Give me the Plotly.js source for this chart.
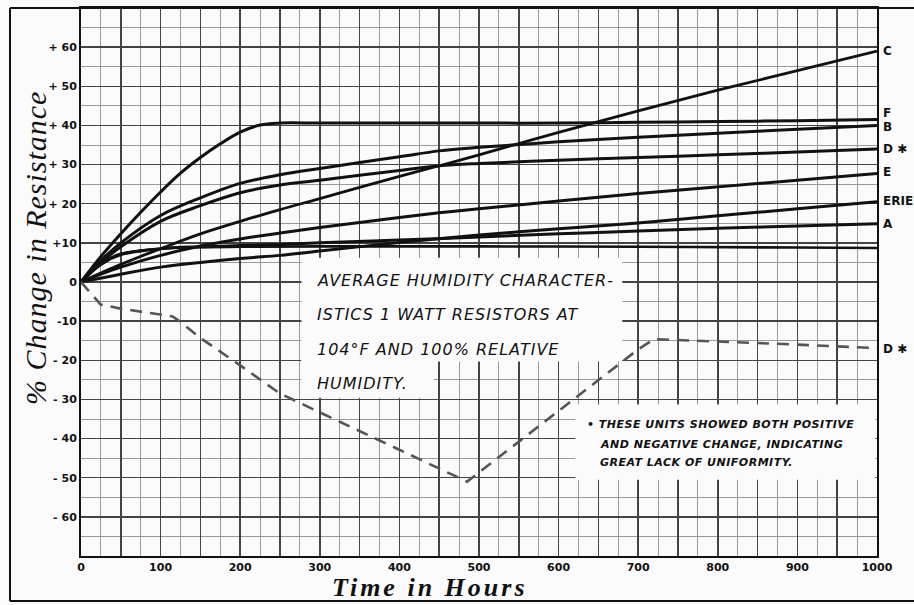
<!DOCTYPE html>
<html>
<head>
<meta charset="utf-8">
<script src="https://cdn.plot.ly/plotly-3.0.1.min.js"></script>
<style>html,body{margin:0;padding:0;background:#fbfbfb;}</style>
</head>
<body>
<div id="chart" style="width:914px;height:605px;"></div>
<script>
// ---- data (hours, % change) ----
const hoursF = [0,25,50,75,100,125,150,175,200,225,250,300,400,500,600,700,800,900,1000];
const valsF  = [0,6.5,12.3,17.8,23,27.8,31.8,35.3,38.3,40.1,40.6,40.6,40.6,40.6,40.6,40.8,41,41.2,41.5];

const hoursB = [0,25,50,100,150,200,250,300,400,450,500,600,700,800,900,1000];
const valsB  = [0,5.5,10,17,21.5,25.2,27.4,29,32,33.5,34.4,35.8,37,38,39,40];

const hoursD = [0,25,50,100,150,200,250,300,400,450,500,600,700,800,900,1000];
const valsD  = [0,5,9,15.5,19.5,22.8,24.8,26,28.5,29.7,30.3,31.1,31.8,32.5,33.2,34];

const hoursC = [0,50,100,150,200,250,300,400,450,500,600,700,800,900,1000];
const valsC  = [0,4.5,8.5,12.3,15.5,18.5,21.3,27,29.7,32.5,38.2,43.7,49,54,59];

const hoursE = [0,25,50,100,150,200,250,300,400,450,500,600,700,800,900,1000];
const valsE  = [0,2,3.8,6.8,9.2,11,12.5,13.9,16.5,17.7,18.7,20.7,22.6,24.3,26,27.7];

const hoursErie = [0,50,100,200,250,300,400,500,600,700,800,900,1000];
const valsErie  = [0,2,3.8,6,6.8,7.9,10.1,12,13.6,15.1,16.9,18.7,20.5];

const hoursA = [0,25,50,100,150,200,250,300,400,500,600,700,800,900,1000];
const valsA  = [0,4.5,7,8.5,9,9.3,9.6,10,10.7,11.5,12.3,13,13.7,14.3,14.9];

const hoursG = [0,25,50,100,150,200,300,500,700,900,1000];
const valsG  = [0,4.8,7.2,8.5,8.9,9,9.1,9.1,9,8.8,8.7];

const hoursDneg = [0,25,50,75,100,115,125,150,200,250,300,400,485,550,600,650,700,720,750,800,900,1000];
const valsDneg  = [0,-5.8,-6.8,-7.6,-8.3,-8.8,-10.2,-14.3,-21.3,-28.5,-33.3,-42.9,-51,-40.8,-33,-25.1,-17.2,-14.6,-14.8,-15.2,-16,-16.9];

const endLabels = ['C','F','B','D ✱','E','ERIE','A','D ✱'];
const endLabelY = [59,43.3,39.5,34,28,20.6,14.8,-17];

const xTickVals = [0,50,100,150,200,250,300,350,400,450,500,550,600,650,700,750,800,850,900,950,1000];
const xTickText = ['0','','100','','200','','300','','400','','500','','600','','700','','800','','900','','1000'];
const yTickVals = [-70,-60,-50,-40,-30,-20,-10,0,10,20,30,40,50,60,70];
const yTickText = ['','- 60','- 50','- 40','- 30','- 20','-10','0','+10','+ 20','+ 30','+ 40','+ 50','+ 60',''];

const noteMain = ['AVERAGE HUMIDITY CHARACTER-','ISTICS 1 WATT RESISTORS AT','104°F AND 100% RELATIVE','HUMIDITY.'];
const noteStar = ['• THESE UNITS SHOWED BOTH POSITIVE','AND NEGATIVE CHANGE, INDICATING','GREAT LACK OF UNIFORMITY.'];

function spaced(t, px) { return '<span style="letter-spacing:' + px + 'px">' + t + '</span>'; }

// ---- traces ----
function solid(x, y, w) {
  return {x: x, y: y, type: 'scatter', mode: 'lines',
    line: {color: '#111', width: w || 3, shape: 'spline', smoothing: 1},
    hoverinfo: 'skip'};
}
const traces = [
  solid(hoursF, valsF, 3),
  solid(hoursB, valsB, 3),
  solid(hoursD, valsD, 3),
  solid(hoursC, valsC, 2.8),
  solid(hoursE, valsE, 3),
  solid(hoursErie, valsErie, 3),
  solid(hoursA, valsA, 3),
  solid(hoursG, valsG, 2.6),
  {x: hoursDneg, y: valsDneg, type: 'scatter', mode: 'lines',
   line: {color: '#555', width: 2.6, dash: '12px,8px'}, hoverinfo: 'skip'}
];

// ---- annotations ----
const ann = [];
endLabels.forEach((t, i) => {
  ann.push({x: 1000, y: endLabelY[i], xref: 'x', yref: 'y', text: t, showarrow: false,
    xanchor: 'left', xshift: 4, font: {family: 'DejaVu Sans', size: 12, color: '#111', weight: 'bold'}});
});
const mainY = [0.5, -8.2, -17.2, -25.9];
noteMain.forEach((t, i) => {
  ann.push({x: 294, y: mainY[i], xref: 'x', yref: 'y', text: spaced(t, 1), showarrow: false,
    xanchor: 'left', yanchor: 'middle',
    font: {family: 'DejaVu Sans', size: 16, color: '#111', style: 'italic'}});
});
const starX = [633, 650, 649];
const starY = [-36.4, -41.5, -46.2];
noteStar.forEach((t, i) => {
  ann.push({x: starX[i], y: starY[i], xref: 'x', yref: 'y', text: spaced(t, 0.5), showarrow: false,
    xanchor: 'left', yanchor: 'middle',
    font: {family: 'DejaVu Sans', size: 11, color: '#111', style: 'italic', weight: 'bold'}});
});
// axis titles
ann.push({xref: 'paper', yref: 'paper', x: 0.438, y: 0, yshift: -31, yanchor: 'middle', xanchor: 'center',
  text: spaced('Time in Hours', 3), showarrow: false,
  font: {family: 'Liberation Serif', size: 26, color: '#111', style: 'italic', weight: 'bold'}});
ann.push({xref: 'paper', yref: 'paper', x: 0, xshift: -46, y: 0.562, xanchor: 'center', yanchor: 'middle',
  text: spaced('% Change in Resistance', 1), textangle: -90, showarrow: false,
  font: {family: 'Liberation Serif', size: 30, color: '#111', style: 'italic'}});

// ---- shapes: white label panels and outer frame ----
const shapes = [
  {type: 'rect', xref: 'x', yref: 'y', x0: 277, x1: 680, y0: -20.3, y1: 6.2,
   fillcolor: '#fbfbfb', line: {width: 0}, layer: 'above'},
  {type: 'rect', xref: 'x', yref: 'y', x0: 277, x1: 443, y0: -29.6, y1: -20,
   fillcolor: '#fbfbfb', line: {width: 0}, layer: 'above'},
  {type: 'rect', xref: 'x', yref: 'y', x0: 621, x1: 998, y0: -50.5, y1: -31.3,
   fillcolor: '#fbfbfb', line: {width: 0}, layer: 'above'},
  {type: 'line', xref: 'paper', yref: 'paper', x0: -0.0892, x1: -0.0892, y0: 1, y1: -0.082,
   line: {color: '#111', width: 2}},
  {type: 'line', xref: 'paper', yref: 'paper', x0: -0.0892, x1: 1.05, y0: 1, y1: 1,
   line: {color: '#111', width: 2}},
  {type: 'line', xref: 'paper', yref: 'paper', x0: -0.0892, x1: 1.05, y0: -0.082, y1: -0.082,
   line: {color: '#111', width: 2}}
];

const layout = {
  width: 914, height: 605,
  margin: {l: 81, r: 37, t: 8, b: 49},
  paper_bgcolor: '#fbfbfb', plot_bgcolor: '#fbfbfb',
  showlegend: false,
  xaxis: {
    range: [0, 1000], tickmode: 'array', tickvals: xTickVals, ticktext: xTickText,
    showgrid: true, gridcolor: '#444', gridwidth: 1.5, zeroline: false,
    showline: true, mirror: true, linecolor: '#111', linewidth: 2,
    ticks: '', tickfont: {family: 'DejaVu Sans', size: 11, color: '#111', weight: 'bold'},
    minor: {dtick: 25, tick0: 0, showgrid: true, gridcolor: '#9a9a9a', gridwidth: 1},
    fixedrange: true
  },
  yaxis: {
    range: [-70, 70], tickmode: 'array', tickvals: yTickVals, ticktext: yTickText,
    showgrid: true, gridcolor: '#444', gridwidth: 1.5, zeroline: false,
    showline: true, mirror: true, linecolor: '#111', linewidth: 2,
    ticks: '', tickfont: {family: 'DejaVu Sans', size: 11, color: '#111', weight: 'bold'},
    minor: {dtick: 5, tick0: 0, showgrid: true, gridcolor: '#9a9a9a', gridwidth: 1},
    fixedrange: true
  },
  annotations: ann,
  shapes: shapes
};

Plotly.newPlot('chart', traces, layout, {displayModeBar: false, staticPlot: true});
</script>
</body>
</html>
